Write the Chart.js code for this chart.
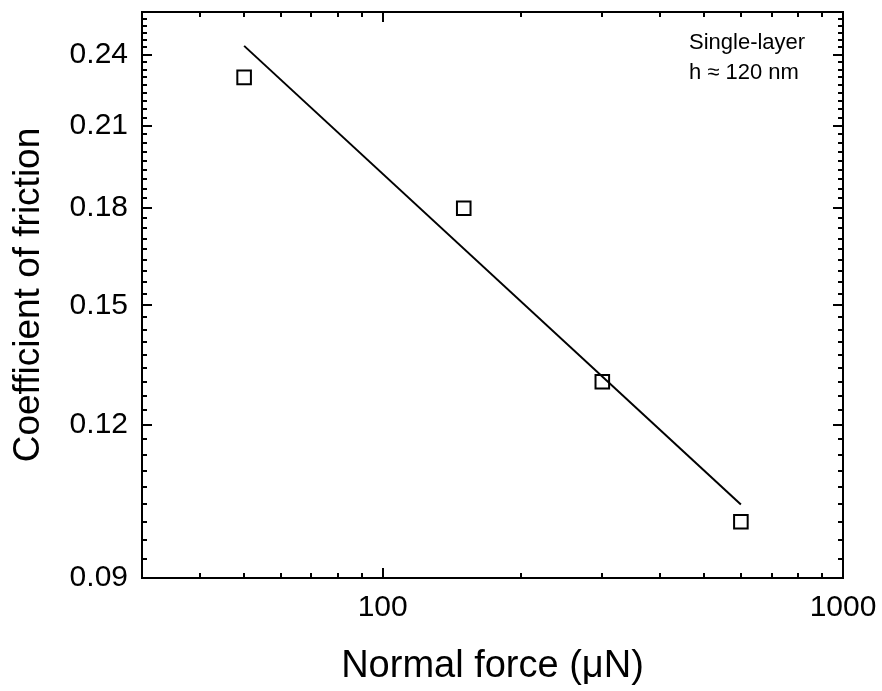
<!DOCTYPE html>
<html>
<head>
<meta charset="utf-8">
<title>Coefficient of friction vs normal force</title>
<script src="https://cdn.jsdelivr.net/npm/chart.js@4.4.1/dist/chart.umd.min.js"></script>
<style>
  html, body { margin: 0; padding: 0; background: #fff; }
  #chart { display: block; }
</style>
</head>
<body>
<canvas id="chart" width="882" height="691"></canvas>
<script>
// measured points
const normalForce = [50, 150, 300, 600];
const frictionCoef = [0.23, 0.18, 0.13, 0.10];

// power-law fit line (two ends, straight on log-log axes)
const fitForce = [50, 600];
const fitCoef = [0.244, 0.1033];

const xMajorTicks = [100, 1000];
const xMinorTicks = [40, 50, 60, 70, 80, 90, 200, 300, 400, 500, 600, 700, 800, 900];
const yMajorTicks = [0.09, 0.12, 0.15, 0.18, 0.21, 0.24];

const noteLines = ["Single-layer", "h \u2248 120 nm"];

const FONT = "'Liberation Sans', Arial, sans-serif";

// 8 minor ticks between the major ones (9 intervals), like the original
const yMinorTicks = [];
for (let v = 0.09; v < 0.2601; v += 0.03 / 9) {
  const r = Math.round(v * 10000) / 10000;
  if (!yMajorTicks.some(m => Math.abs(m - r) < 1e-4)) yMinorTicks.push(r);
}

// frame + inward ticks on all four sides
const framePlugin = {
  id: "frame",
  afterDatasetsDraw(chart) {
    const { ctx, chartArea: a } = chart;
    const xs = chart.scales.x;
    const ys = chart.scales.y;
    ctx.save();
    ctx.strokeStyle = "#000";
    ctx.lineWidth = 2;
    ctx.lineCap = "butt";
    ctx.strokeRect(a.left, a.top, a.right - a.left, a.bottom - a.top);

    const xTick = (v, len) => {
      const px = Math.round(xs.getPixelForValue(v));
      ctx.moveTo(px, a.bottom); ctx.lineTo(px, a.bottom - len);
      ctx.moveTo(px, a.top); ctx.lineTo(px, a.top + len);
    };
    const yTick = (v, len) => {
      const py = Math.round(ys.getPixelForValue(v));
      ctx.moveTo(a.left, py); ctx.lineTo(a.left + len, py);
      ctx.moveTo(a.right, py); ctx.lineTo(a.right - len, py);
    };
    ctx.beginPath();
    xMajorTicks.forEach(v => xTick(v, 10));
    xMinorTicks.forEach(v => xTick(v, 5));
    yMajorTicks.forEach(v => yTick(v, 10));
    yMinorTicks.forEach(v => yTick(v, 5));
    ctx.stroke();

    // annotation in the top right corner
    ctx.fillStyle = "#000";
    ctx.font = "22px " + FONT;
    ctx.textAlign = "left";
    ctx.textBaseline = "alphabetic";
    ctx.fillText(noteLines[0], a.left + 547, a.top + 37);
    ctx.fillText(noteLines[1], a.left + 547, a.top + 67);
    ctx.restore();
  },
};

new Chart(document.getElementById("chart"), {
  type: "scatter",
  data: {
    datasets: [
      {
        label: "data",
        data: normalForce.map((f, i) => ({ x: f, y: frictionCoef[i] })),
        pointStyle: "rect",
        pointRadius: 9.6,
        pointBorderWidth: 2,
        borderColor: "#000",
        backgroundColor: "rgba(0,0,0,0)",
        showLine: false,
      },
      {
        label: "fit",
        data: fitForce.map((f, i) => ({ x: f, y: fitCoef[i] })),
        showLine: true,
        pointRadius: 0,
        borderColor: "#000",
        borderWidth: 2,
      },
    ],
  },
  options: {
    responsive: false,
    animation: false,
    layout: { padding: { top: 12, right: 39, left: 0, bottom: 0 } },
    plugins: {
      legend: { display: false },
      tooltip: { enabled: false },
    },
    scales: {
      x: {
        type: "logarithmic",
        min: 30,
        max: 1000,
        grid: { display: false, drawTicks: false },
        border: { display: false },
        afterBuildTicks: s => { s.ticks = xMajorTicks.map(v => ({ value: v })); },
        // fixed box, no extra room for the overhanging "1000"
        afterFit: s => { s.height = 113; s.paddingLeft = 0; s.paddingRight = 0; },
        ticks: {
          autoSkip: false,
          maxRotation: 0,
          padding: 12,
          color: "#000",
          font: { family: FONT, size: 30 },
          callback: v => String(v),
        },
        title: {
          display: true,
          text: "Normal force (\u03bcN)",
          color: "#000",
          font: { family: FONT, size: 38 },
          padding: { top: 0, bottom: 2 },
        },
      },
      y: {
        type: "logarithmic",
        min: 0.09,
        max: 0.26,
        grid: { display: false, drawTicks: false },
        border: { display: false },
        afterBuildTicks: s => { s.ticks = yMajorTicks.map(v => ({ value: v })); },
        afterFit: s => { s.width = 142; s.paddingTop = 0; s.paddingBottom = 0; },
        ticks: {
          autoSkip: false,
          padding: 14,
          color: "#000",
          font: { family: FONT, size: 30 },
          callback: v => Number(v).toFixed(2),
        },
        title: {
          display: true,
          text: "Coefficient of friction",
          color: "#000",
          font: { family: FONT, size: 37 },
          padding: { top: 7, bottom: 0 },
        },
      },
    },
  },
  plugins: [framePlugin],
});
</script>
</body>
</html>
